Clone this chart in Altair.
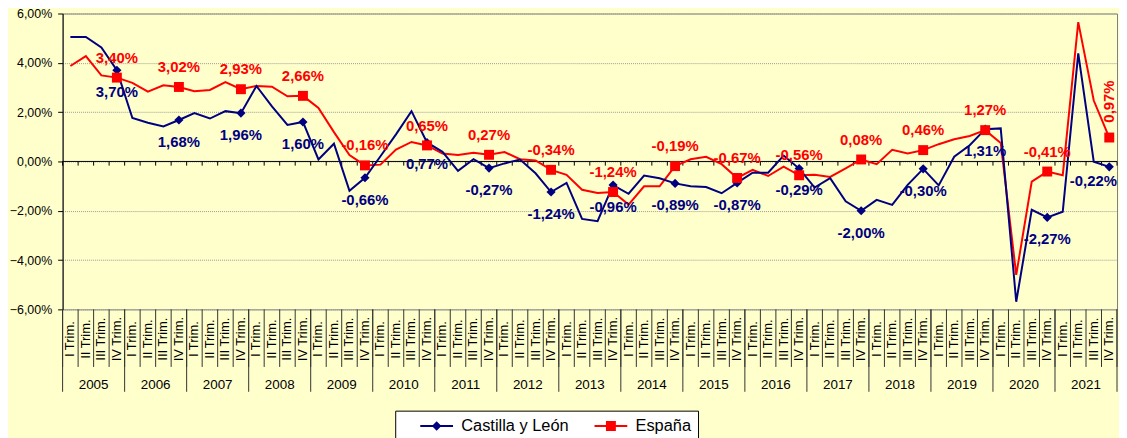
import altair as alt
import pandas as pd

# ---------------- data ----------------
years = list(range(2005, 2022))
quarters = ["I Trim.", "II Trim.", "III Trim.", "IV Trim."]
series_names = ["Castilla y León", "España"]

cyl = [5.05, 5.05, 4.62, 3.70,
       1.76, 1.57, 1.42, 1.68,
       1.96, 1.74, 2.04, 1.96,
       3.06, 2.23, 1.48, 1.60,
       0.08, 0.72, -1.19, -0.66,
       0.21, 1.10, 2.04, 0.77,
       0.39, -0.38, 0.09, -0.27,
       -0.08, 0.08, -0.48, -1.24,
       -0.87, -2.33, -2.42, -0.96,
       -1.31, -0.57, -0.68, -0.89,
       -1.01, -1.04, -1.29, -0.87,
       -0.46, -0.46, 0.24, -0.29,
       -1.06, -0.68, -1.62, -2.00,
       -1.56, -1.76, -0.95, -0.30,
       -0.97, 0.19, 0.66, 1.31,
       1.34, -5.69, -1.96, -2.27,
       -2.04, 4.38, -0.01, -0.22]

esp = [3.87, 4.27, 3.49, 3.40,
       3.19, 2.83, 3.09, 3.02,
       2.85, 2.90, 3.22, 2.93,
       3.06, 3.03, 2.64, 2.66,
       2.17, 1.19, 0.26, -0.16,
       -0.13, 0.48, 0.79, 0.65,
       0.32, 0.26, 0.35, 0.27,
       0.38, 0.09, 0.04, -0.34,
       -0.54, -1.15, -1.28, -1.24,
       -1.75, -1.01, -1.01, -0.19,
       0.09, 0.19, -0.11, -0.67,
       -0.34, -0.59, -0.21, -0.56,
       -0.54, -0.63, -0.28, 0.08,
       -0.11, 0.47, 0.32, 0.46,
       0.70, 0.90, 1.03, 1.27,
       0.75, -4.60, -0.82, -0.41,
       -0.56, 5.65, 2.47, 0.97]

y_ticks = [-6, -4, -2, 0, 2, 4, 6]

# ---------------- styling ----------------
NAVY = "#000080"
RED = "#FF0000"
FONT = "Liberation Sans"
W, H = 1062, 298

n = len(cyl)


def fmt(v):
    return f"{v:.2f}".replace(".", ",") + "%"


df = pd.DataFrame({
    "idx": list(range(n)),
    "pos": [i + 0.5 for i in range(n)],
    "quarter": [quarters[i % 4] for i in range(n)],
    "cyl": cyl,
    "esp": esp,
})
df["cyl_lab"] = df["cyl"].map(fmt)
df["esp_lab"] = df["esp"].map(fmt)
df["is_iv"] = df["idx"] % 4 == 3
df["is_last"] = df["idx"] == n - 1

years_df = pd.DataFrame({"year": [str(y) for y in years],
                         "pos": [4 * k + 2 for k in range(len(years))]})
qbounds = pd.DataFrame({"b": list(range(0, n + 1))})
qbounds["z"] = 0.0
qbounds["zd"] = -0.17
ybounds = pd.DataFrame({"b": list(range(0, n + 1, 4))})
zero_df = pd.DataFrame({"y": [0.0]})
legend_df = pd.DataFrame({"serie": series_names})

xs = alt.Scale(domain=[0, n], nice=False, zero=False)
ys = alt.Scale(domain=[-6, 6], nice=False, zero=False)
cs = alt.Scale(domain=series_names, range=[NAVY, RED])

path_cyl = "M-3.3,-0.2H3.3V0.2H-3.3Z M0,-0.95L0.95,0L0,0.95L-0.95,0Z"
path_esp = "M-3.3,-0.2H3.3V0.2H-3.3Z M-1,-1H1V1H-1Z"
shp = alt.Scale(domain=series_names, range=[path_cyl, path_esp])

yaxis = alt.Axis(
    values=y_ticks,
    labelExpr="replace(format(datum.value, '.2f'), '.', ',') + '%'",
    grid=True, gridDash=[1, 1], gridColor="#9a9a9a", gridWidth=1,
    domainColor="black", domainWidth=1, tickColor="black", tickSize=5,
    labelFont=FONT, labelFontSize=12.5, labelColor="black", labelPadding=6,
    title=None,
)


def Y(field):
    return alt.Y(field, scale=ys, axis=yaxis)


X = alt.X("pos:Q", scale=xs, axis=None)

legend = alt.Legend(
    title=None, orient="none", legendX=335, legendY=400,
    direction="horizontal", fillColor="white", strokeColor="black",
    padding=7, symbolSize=100, symbolOffset=26.5, labelOffset=16.5,
    columnPadding=7.5, labelFontSize=16.5, labelFont=FONT,
    labelColor="black", symbolOpacity=1, symbolStrokeWidth=0,
)

zero_line = alt.Chart(zero_df).mark_rule(color="black", strokeWidth=1).encode(
    y=Y("y:Q")
)

zero_ticks = alt.Chart(qbounds).mark_rule(color="black", strokeWidth=1).encode(
    x=alt.X("b:Q", scale=xs, axis=None),
    y=Y("z:Q"),
    y2="zd:Q",
)

base = alt.Chart(df)

cyl_line = base.mark_line(strokeWidth=2, color=NAVY).encode(x=X, y=Y("cyl:Q"))
esp_line = base.mark_line(strokeWidth=2, color=RED).encode(x=X, y=Y("esp:Q"))

cyl_pts = base.transform_filter("datum.is_iv").mark_point(
    shape="diamond", filled=True, size=85, color=NAVY, opacity=1, strokeWidth=0
).encode(x=X, y=Y("cyl:Q"))

esp_pts = base.transform_filter("datum.is_iv").mark_point(
    shape="square", filled=True, size=100, color=RED, opacity=1, strokeWidth=0
).encode(x=X, y=Y("esp:Q"))

lab_style = dict(font=FONT, fontSize=15, fontWeight="bold")

cyl_labels = base.transform_filter("datum.is_iv && !datum.is_last").mark_text(
    color=NAVY, dy=22, **lab_style
).encode(x=X, y=Y("cyl:Q"), text="cyl_lab:N")

cyl_last = base.transform_filter("datum.is_last").mark_text(
    color=NAVY, dy=14, dx=-16, **lab_style
).encode(x=X, y=Y("cyl:Q"), text="cyl_lab:N")

esp_labels = base.transform_filter("datum.is_iv && !datum.is_last").mark_text(
    color=RED, dy=-20, **lab_style
).encode(x=X, y=Y("esp:Q"), text="esp_lab:N")

esp_last = base.transform_filter("datum.is_last").mark_text(
    color=RED, angle=270, align="left", baseline="middle", dx=15, **lab_style
).encode(x=X, y=Y("esp:Q"), text="esp_lab:N")

q_sep = alt.Chart(qbounds).mark_rule(color="#333333", strokeWidth=1).encode(
    x=alt.X("b:Q", scale=xs, axis=None),
    y=alt.value(H), y2=alt.value(H + 58),
)

y_sep = alt.Chart(ybounds).mark_rule(color="#333333", strokeWidth=1).encode(
    x=alt.X("b:Q", scale=xs, axis=None),
    y=alt.value(H), y2=alt.value(H + 83),
)

q_labels = base.mark_text(
    angle=270, align="center", baseline="middle", font=FONT, fontSize=13,
    color="black"
).encode(x=X, y=alt.value(H + 30), text="quarter:N")

year_labels = alt.Chart(years_df).mark_text(
    align="center", baseline="middle", font=FONT, fontSize=13.5, color="black"
).encode(x=alt.X("pos:Q", scale=xs, axis=None), y=alt.value(H + 76),
         text="year:N")

legend_layer = alt.Chart(legend_df).mark_point(
    filled=True, opacity=0, size=100
).encode(
    color=alt.Color("serie:N", scale=cs, legend=legend),
    shape=alt.Shape("serie:N", scale=shp, legend=legend),
)

chart = alt.layer(
    zero_line, zero_ticks, esp_line, cyl_line, cyl_pts, esp_pts,
    cyl_labels, cyl_last, esp_labels, esp_last,
    q_sep, y_sep, q_labels, year_labels, legend_layer,
).properties(
    width=W, height=H,
    background="#FFFFCC",
    padding={"left": 55, "top": 4, "right": 2, "bottom": 128},
    autosize=alt.AutoSizeParams(type="none"),
).configure_view(
    stroke="#808080", strokeWidth=1, fill="white"
)

chart.save("out.html", embed_options={"renderer": "svg", "actions": False})
